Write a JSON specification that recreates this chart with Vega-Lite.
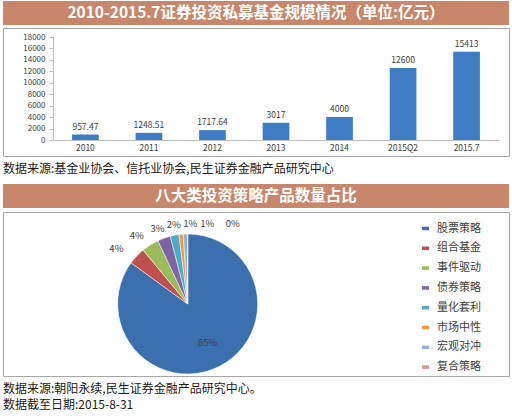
{
  "$schema": "https://vega.github.io/schema/vega-lite/v6.json",
  "padding": {"left": 2, "top": 1, "right": 2, "bottom": 0},
  "background": "white",
  "config": {
    "font": "Noto Sans CJK SC",
    "view": {"stroke": null},
    "title": {"font": "Noto Sans CJK SC"}
  },
  "datasets": {
    "scale": [
      {"year": "2010", "amount": 957.47, "label": "957.47"},
      {"year": "2011", "amount": 1248.51, "label": "1248.51"},
      {"year": "2012", "amount": 1717.64, "label": "1717.64"},
      {"year": "2013", "amount": 3017, "label": "3017"},
      {"year": "2014", "amount": 4000, "label": "4000"},
      {"year": "2015Q2", "amount": 12600, "label": "12600"},
      {"year": "2015.7", "amount": 15413, "label": "15413"}
    ],
    "strategy": [
      {"rank": 1, "name": "股票策略", "pct": 85, "label": "85%"},
      {"rank": 2, "name": "组合基金", "pct": 4, "label": "4%"},
      {"rank": 3, "name": "事件驱动", "pct": 4, "label": "4%"},
      {"rank": 4, "name": "债券策略", "pct": 3, "label": "3%"},
      {"rank": 5, "name": "量化套利", "pct": 2, "label": "2%"},
      {"rank": 6, "name": "市场中性", "pct": 1, "label": "1%"},
      {"rank": 7, "name": "宏观对冲", "pct": 1, "label": "1%"},
      {"rank": 8, "name": "复合策略", "pct": 0, "label": "0%"}
    ],
    "band1": [{"t": "2010-2015.7证券投资私募基金规模情况（单位:亿元）"}],
    "band2": [{"t": "八大类投资策略产品数量占比"}]
  },
  "spacing": 8,
  "vconcat": [
    {
      "spacing": 2,
      "vconcat": [
        {
          "width": 506, "height": 24,
          "view": {"fill": "#C8866A", "stroke": null},
          "data": {"name": "band1"},
          "mark": {"type": "text", "color": "white", "fontSize": 15.5, "fontWeight": "bold", "baseline": "middle"},
          "encoding": {"text": {"field": "t"}}
        },
        {
          "width": 506, "height": 128,
          "view": {"stroke": "#A6A6A6", "strokeWidth": 1},
          "data": {"name": "scale"},
          "title": {
            "text": "数据来源:基金业协会、信托业协会,民生证券金融产品研究中心",
            "orient": "bottom", "anchor": "start", "frame": "group",
            "fontSize": 12, "fontWeight": "normal", "color": "#231815", "offset": 8
          },
          "encoding": {
            "x": {
              "field": "year", "type": "nominal", "sort": null,
              "scale": {"range": [50, 496], "paddingInner": 0.58, "paddingOuter": 0.3},
              "axis": {"title": null, "labelAngle": 0, "offset": -16, "domainColor": "#BFBFBF", "ticks": false,
                       "labelFontSize": 8.5, "labelColor": "#404040", "labelPadding": 3}
            },
            "y": {
              "field": "amount", "type": "quantitative",
              "scale": {"domain": [0, 18000], "range": [112, 9], "nice": false},
              "axis": {"title": null, "offset": -50, "grid": false, "format": "d",
                       "values": [0, 2000, 4000, 6000, 8000, 10000, 12000, 14000, 16000, 18000],
                       "domainColor": "#BFBFBF", "tickColor": "#BFBFBF", "tickSize": 4,
                       "labelFontSize": 8, "labelColor": "#404040", "labelPadding": 4}
            }
          },
          "layer": [
            {"mark": {"type": "bar", "color": "#3E7DC5"}},
            {"mark": {"type": "text", "dy": -8, "fontSize": 8.5, "color": "#404040"}, "encoding": {"text": {"field": "label"}}}
          ]
        }
      ]
    },
    {
      "spacing": 3,
      "vconcat": [
        {
          "width": 506, "height": 24,
          "view": {"fill": "#C8866A", "stroke": null},
          "data": {"name": "band2"},
          "mark": {"type": "text", "color": "white", "fontSize": 15.5, "fontWeight": "bold", "baseline": "middle"},
          "encoding": {"text": {"field": "t"}}
        },
        {
          "width": 506, "height": 164,
          "view": {"stroke": "#A6A6A6", "strokeWidth": 1},
          "data": {"name": "strategy"},
          "title": {
            "text": ["数据来源:朝阳永续,民生证券金融产品研究中心。", "数据截至日期:2015-8-31"],
            "orient": "bottom", "anchor": "start", "frame": "group",
            "fontSize": 12, "fontWeight": "normal", "color": "#231815", "offset": 4, "lineHeight": 16
          },
          "encoding": {
            "theta": {"field": "pct", "type": "quantitative", "stack": true},
            "order": {"field": "rank", "type": "quantitative"},
            "x": {"datum": 0.365, "type": "quantitative", "scale": {"domain": [0, 1]}, "axis": null},
            "y": {"datum": 0.439, "type": "quantitative", "scale": {"domain": [0, 1]}, "axis": null}
          },
          "layer": [
            {
              "mark": {"type": "arc", "outerRadius": 70, "stroke": "white", "strokeWidth": 0.5},
              "encoding": {
                "color": {
                  "field": "name", "type": "nominal", "sort": null,
                  "scale": {
                    "domain": ["股票策略", "组合基金", "事件驱动", "债券策略", "量化套利", "市场中性", "宏观对冲", "复合策略"],
                    "range": ["#3B6FAD", "#C0504D", "#9BBB59", "#8064A2", "#4BACC6", "#F79646", "#95B3D7", "#D99694"]
                  },
                  "legend": {
                    "title": null, "orient": "none", "legendX": 417, "legendY": 222,
                    "symbolType": "M-1,-0.5H1V0.5H-1Z", "symbolSize": 50, "symbolStrokeWidth": 0,
                    "labelFontSize": 11, "labelColor": "#404040", "rowPadding": 7.8, "labelOffset": 6
                  }
                }
              }
            },
            {
              "mark": {"type": "text", "radius": 44, "fontSize": 9.5, "color": "#404040"},
              "encoding": {"text": {"field": "label"}, "opacity": {"condition": {"test": "datum.rank == 1", "value": 1}, "value": 0}}
            },
            {
              "mark": {"type": "text", "radius": 80, "fontSize": 9.5, "color": "#404040", "dx": -13},
              "encoding": {"text": {"field": "label"}, "opacity": {"condition": {"test": "datum.rank == 2", "value": 1}, "value": 0}}
            },
            {
              "mark": {"type": "text", "radius": 80, "fontSize": 9.5, "color": "#404040", "dx": -8},
              "encoding": {"text": {"field": "label"}, "opacity": {"condition": {"test": "datum.rank == 3", "value": 1}, "value": 0}}
            },
            {
              "mark": {"type": "text", "radius": 80, "fontSize": 9.5, "color": "#404040", "dx": -3},
              "encoding": {"text": {"field": "label"}, "opacity": {"condition": {"test": "datum.rank == 4", "value": 1}, "value": 0}}
            },
            {
              "mark": {"type": "text", "radius": 80, "fontSize": 9.5, "color": "#404040", "dx": 1},
              "encoding": {"text": {"field": "label"}, "opacity": {"condition": {"test": "datum.rank == 5", "value": 1}, "value": 0}}
            },
            {
              "mark": {"type": "text", "radius": 80, "fontSize": 9.5, "color": "#404040", "dx": 10},
              "encoding": {"text": {"field": "label"}, "opacity": {"condition": {"test": "datum.rank == 6", "value": 1}, "value": 0}}
            },
            {
              "mark": {"type": "text", "radius": 80, "fontSize": 9.5, "color": "#404040", "dx": 22},
              "encoding": {"text": {"field": "label"}, "opacity": {"condition": {"test": "datum.rank == 7", "value": 1}, "value": 0}}
            },
            {
              "mark": {"type": "text", "radius": 80, "fontSize": 9.5, "color": "#404040", "dx": 45},
              "encoding": {"text": {"field": "label"}, "opacity": {"condition": {"test": "datum.rank == 8", "value": 1}, "value": 0}}
            }
          ]
        }
      ]
    }
  ]
}
